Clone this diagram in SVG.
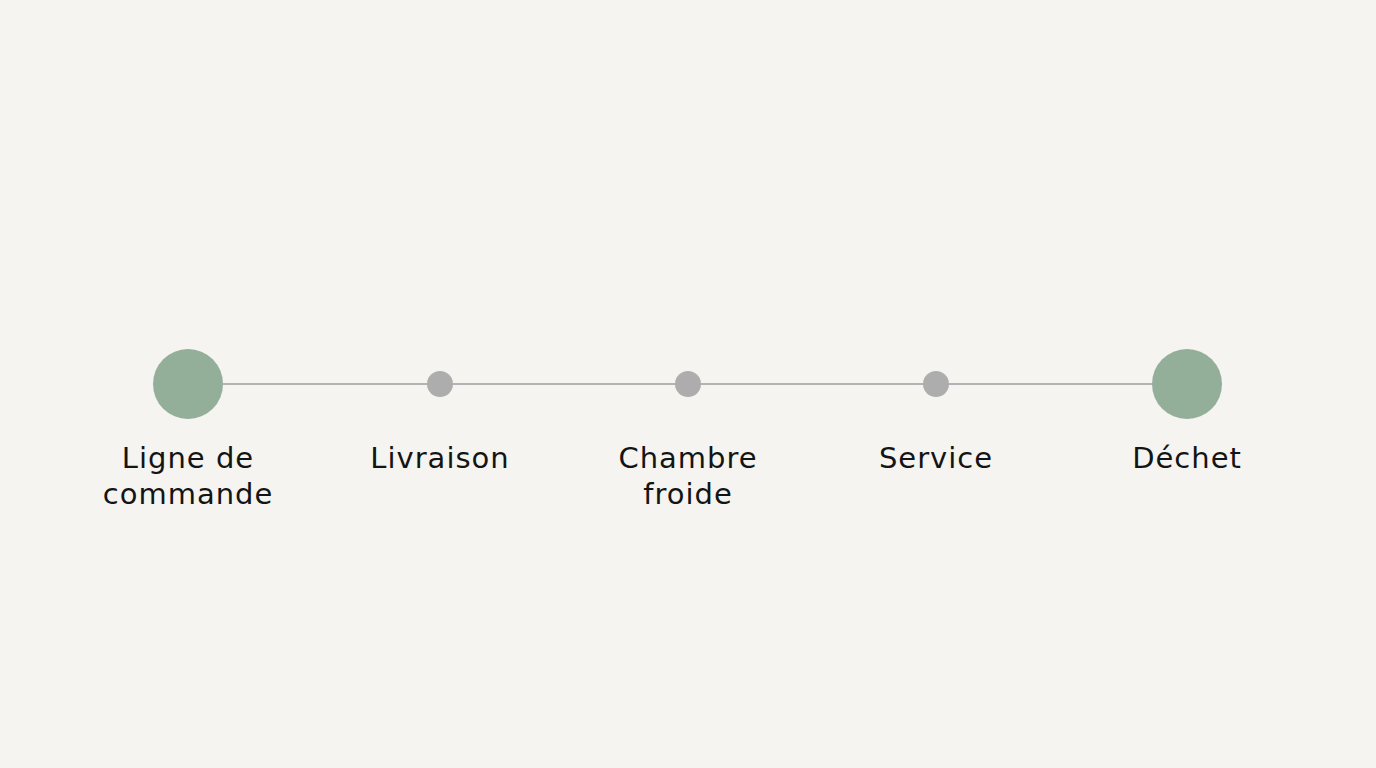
<svg xmlns="http://www.w3.org/2000/svg" width="1376" height="768" viewBox="0 0 1376 768">
<style>
.lbl{font-family:"DejaVu Sans","Liberation Sans",sans-serif;font-size:29px;fill:#141414;text-anchor:middle;letter-spacing:1px}
.big{fill:#93ae99}
.small{fill:#adadad}
.conn{stroke:#b3b3b3;stroke-width:2;fill:none}
</style>
<rect width="1376" height="768" fill="#f5f4f0"/>
<g id="connectors">
<line class="conn" x1="223" y1="384" x2="1152" y2="384"/>
</g>
<g id="n1"><circle class="big" cx="188" cy="384" r="35"/><text class="lbl" x="188" y="468">Ligne de</text><text class="lbl" x="188" y="504">commande</text></g>
<g id="n2"><circle class="small" cx="440" cy="384" r="13"/><text class="lbl" x="440" y="468">Livraison</text></g>
<g id="n3"><circle class="small" cx="688" cy="384" r="13"/><text class="lbl" x="688" y="468">Chambre</text><text class="lbl" x="688" y="504">froide</text></g>
<g id="n4"><circle class="small" cx="936" cy="384" r="13"/><text class="lbl" x="936" y="468">Service</text></g>
<g id="n5"><circle class="big" cx="1187" cy="384" r="35"/><text class="lbl" x="1187" y="468">Déchet</text></g>
</svg>
